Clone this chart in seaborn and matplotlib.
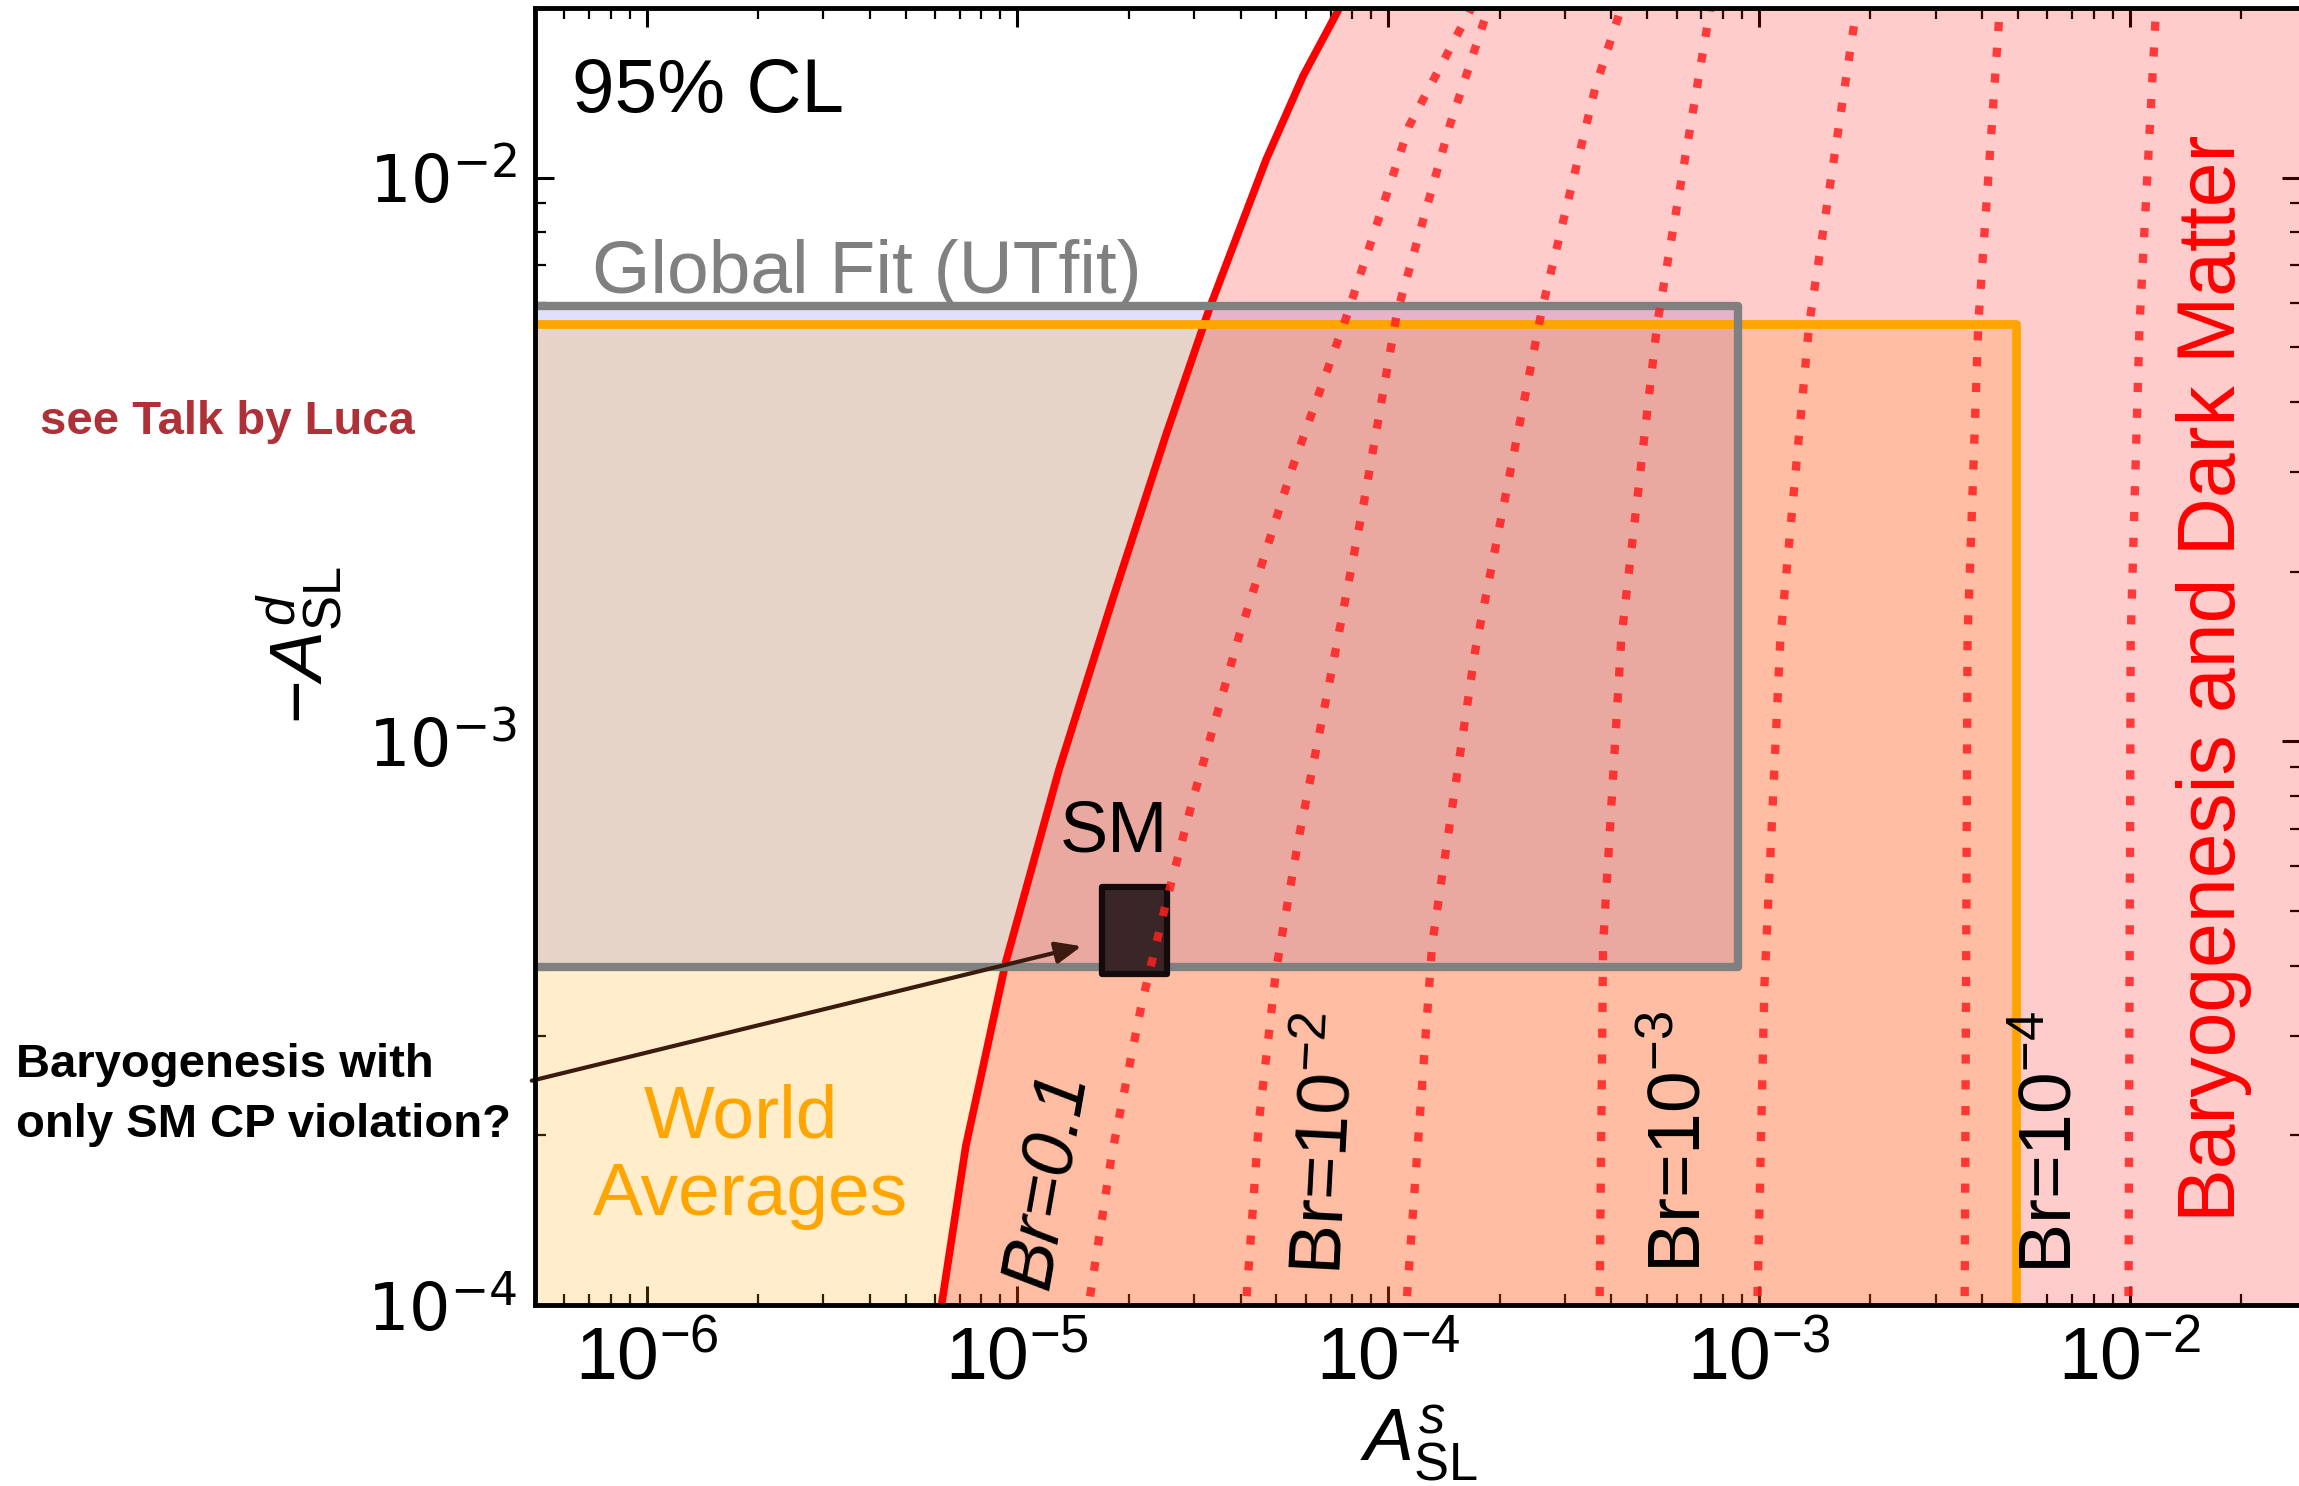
import numpy as np
import pandas as pd
import matplotlib
matplotlib.use("Agg")
import matplotlib.pyplot as plt
import seaborn as sns
from matplotlib.patches import Rectangle
from matplotlib.ticker import NullFormatter

W, H = 2299, 1486

# ---------------- data ----------------
x_range = [5.0e-7, 2.9e-2]
y_range = [1.0e-4, 2.0e-2]

# Global fit (UTfit) box
utfit_x = [1e-7, 8.76e-4]
utfit_y = [3.98e-4, 5.93e-3]
# World averages box
wa_x = [1e-7, 4.95e-3]
wa_y = [1e-5, 5.5e-3]
# SM prediction box
sm_x = [1.69e-5, 2.54e-5]
sm_y = [3.86e-4, 5.52e-4]

# boundary of the baryogenesis & dark matter region (log10 values)
bound_logy = [-4.10, -3.998, -3.718, -3.391, -3.051, -2.752, -2.456, -2.234,
              -1.968, -1.819, -1.700, -1.65]
bound_logx = [-5.23, -5.204, -5.139, -5.031, -4.888, -4.745, -4.599, -4.483,
              -4.329, -4.229, -4.132, -4.09]

# Br contour lines (log10 values)
br_a_logy = [-4.03, -3.998, -3.732, -3.464, -3.287, -3.109, -2.813, -2.516,
             -2.248, -1.908, -1.68]
br_a_logx = [-4.815, -4.807, -4.745, -4.664, -4.599, -4.529, -4.402, -4.259,
             -4.113, -3.943, -3.76]
br_b_logy = [-4.03, -3.998, -3.672, -3.405, -3.168, -2.871, -2.575, -2.240,
             -1.906, -1.68]
br_b_logx = [-4.388, -4.383, -4.348, -4.302, -4.240, -4.151, -4.065, -3.976,
             -3.833, -3.72]
br_c_logy = [-4.03, -3.359, -2.839, -2.231, -1.840, -1.68]
br_c_logx = [-3.954, -3.881, -3.765, -3.584, -3.441, -3.362]
br_d_logy = [-4.03, -3.359, -2.818, -2.259, -1.68]
br_d_logx = [-3.430, -3.420, -3.371, -3.274, -3.126]
br_e_logy = [-4.03, -3.434, -2.818, -2.259, -1.68]
br_e_logx = [-3.005, -2.985, -2.942, -2.864, -2.732]
br_f_logy = [-4.03, -2.818, -2.259, -1.68]
br_f_logx = [-2.445, -2.437, -2.408, -2.348]
br_g_logy = [-4.03, -2.818, -2.259, -1.68]
br_g_logx = [-2.003, -1.997, -1.973, -1.927]

# arrow (from left edge to SM box)
arrow_from = [4.9e-7, 2.5e-4]
arrow_to = [1.49e-5, 4.33e-4]

br_labels = ["Br=0.1", "Br=10$^{-2}$", "Br=10$^{-3}$", "Br=10$^{-4}$"]

# ---------------- style ----------------
sns.set_theme(style="ticks")
plt.rcParams.update({
    "mathtext.fontset": "custom",
    "mathtext.rm": "Liberation Sans",
    "mathtext.it": "Liberation Sans:italic",
    "mathtext.bf": "Liberation Sans:bold",
    "mathtext.sf": "Liberation Sans",
    "axes.linewidth": 3.5,
    "axes.edgecolor": "black",
    "text.color": "black",
    "axes.labelcolor": "black",
    "xtick.color": "black",
    "ytick.color": "black",
})
plt.rcParams["font.family"] = ["Liberation Sans", "DejaVu Sans"]


def fpos(x, y):
    return x / W, 1 - y / H


fig = plt.figure(figsize=(W / 100, H / 100), dpi=100)
ax = fig.add_axes([535 / W, (H - 1305) / H, (2301 - 535) / W, (1305 - 8) / H])
ax.set_xscale("log")
ax.set_yscale("log")
ax.set_facecolor("white")

# fills
ax.add_patch(Rectangle((utfit_x[0], utfit_y[0]), utfit_x[1] - utfit_x[0],
                       utfit_y[1] - utfit_y[0], facecolor="#e0e0fa",
                       edgecolor="none", zorder=1))
ax.add_patch(Rectangle((wa_x[0], wa_y[0]), wa_x[1] - wa_x[0],
                       wa_y[1] - wa_y[0], facecolor="orange", alpha=0.2,
                       edgecolor="none", zorder=2))
bx = np.power(10.0, bound_logx)
by = np.power(10.0, bound_logy)
ax.fill_betweenx(by, bx, 1.0, color="red", alpha=0.2, lw=0, zorder=3)

# boundary line
sns.lineplot(x=bx, y=by, sort=False, estimator=None, color="red", lw=5.5,
             ax=ax, zorder=4, legend=False)

# box outlines
ax.add_patch(Rectangle((wa_x[0], wa_y[0]), wa_x[1] - wa_x[0],
                       wa_y[1] - wa_y[0], fill=False, edgecolor="orange",
                       lw=6.3, joinstyle="round", zorder=5))
ax.add_patch(Rectangle((utfit_x[0], utfit_y[0]), utfit_x[1] - utfit_x[0],
                       utfit_y[1] - utfit_y[0], fill=False, edgecolor="#808080",
                       lw=6.0, joinstyle="round", zorder=5.5))

# SM box
ax.add_patch(Rectangle((sm_x[0], sm_y[0]), sm_x[1] - sm_x[0],
                       sm_y[1] - sm_y[0], facecolor="#3a2626",
                       edgecolor="#140c0c", lw=4.5, joinstyle="round",
                       zorder=6))

# Br contours
curves = []
for name, ly, lx in [("a", br_a_logy, br_a_logx), ("b", br_b_logy, br_b_logx),
                     ("c", br_c_logy, br_c_logx), ("d", br_d_logy, br_d_logx),
                     ("e", br_e_logy, br_e_logx), ("f", br_f_logy, br_f_logx),
                     ("g", br_g_logy, br_g_logx)]:
    curves.append(pd.DataFrame({"x": np.power(10.0, lx),
                                "y": np.power(10.0, ly), "curve": name}))
df = pd.concat(curves, ignore_index=True)
sns.lineplot(data=df, x="x", y="y", units="curve", estimator=None, sort=False,
             color="#ff2020", alpha=0.85, lw=6, linestyle=(0, (1.1, 2.0)),
             ax=ax, zorder=7, legend=False)

# arrow
ax.annotate("", xy=arrow_to, xytext=arrow_from, xycoords="data",
            textcoords="data", annotation_clip=False,
            arrowprops=dict(arrowstyle="-|>,head_length=1.3,head_width=0.55",
                            color="#3b1a10", lw=3, shrinkA=0, shrinkB=0),
            zorder=8)

# axes setup
ax.set_xlim(x_range)
ax.set_ylim(y_range)
ax.yaxis.set_minor_formatter(NullFormatter())
ax.xaxis.set_minor_formatter(NullFormatter())
ax.tick_params(which="both", direction="in", top=True, right=True,
               colors="black")
ax.tick_params(which="major", length=14, width=2.2)
ax.tick_params(axis="x", which="major", pad=14, labelsize=54)
ax.tick_params(axis="y", which="major", pad=13, labelsize=47)
ax.tick_params(which="minor", length=8, width=1.6)
for lab in ax.get_xticklabels():
    lab.set_fontfamily(["Liberation Sans Narrow", "Liberation Sans"])
for lab in ax.get_yticklabels():
    lab.set_fontfamily(["DejaVu Sans"])
for s in ax.spines.values():
    s.set_linewidth(3.5)
    s.set_zorder(10)

ax.set_xlabel(r"$A^{s}_{\mathrm{SL}}$", fontsize=54, va="center")
ax.xaxis.set_label_coords(0.5006, -0.107)
ax.set_ylabel(r"$-A^{d}_{\mathrm{SL}}$", fontsize=54, va="center")
ax.yaxis.set_label_coords(-0.133, 0.509)

# texts
fig.text(*fpos(572, 112), "95% CL", fontsize=55, ha="left", va="baseline")
fig.text(*fpos(592, 293), "Global Fit (UTfit)", fontsize=54, color="#808080",
         ha="left", va="baseline")
fig.text(*fpos(741, 1137), "World", fontsize=54, color="orange",
         ha="center", va="baseline")
fig.text(*fpos(750, 1215), "Averages", fontsize=54, color="orange",
         ha="center", va="baseline")
fig.text(*fpos(1114, 851), "SM", fontsize=52, ha="center", va="baseline")
fig.text(*fpos(2214, 678), "Baryogenesis and Dark Matter", fontsize=58,
         color="red", rotation=90, ha="center", va="center")
fig.text(*fpos(1048, 1180), br_labels[0], fontsize=53, rotation=80,
         ha="center", va="center", style="italic")
fig.text(*fpos(1327, 1144), br_labels[1], fontsize=54, rotation=87,
         ha="center", va="center")
fig.text(*fpos(1680, 1142), br_labels[2], fontsize=54, rotation=90,
         ha="center", va="center")
fig.text(*fpos(2051, 1142), br_labels[3], fontsize=54, rotation=90,
         ha="center", va="center")
fig.text(*fpos(40, 422), "see Talk by Luca", fontsize=34, fontweight="bold",
         color="#b03037", ha="left", va="center")
fig.text(*fpos(16, 1077), "Baryogenesis with", fontsize=34, fontweight="bold",
         ha="left", va="baseline")
fig.text(*fpos(16, 1137), "only SM CP violation?", fontsize=34,
         fontweight="bold", ha="left", va="baseline")

fig.savefig("out.png", dpi=100)
